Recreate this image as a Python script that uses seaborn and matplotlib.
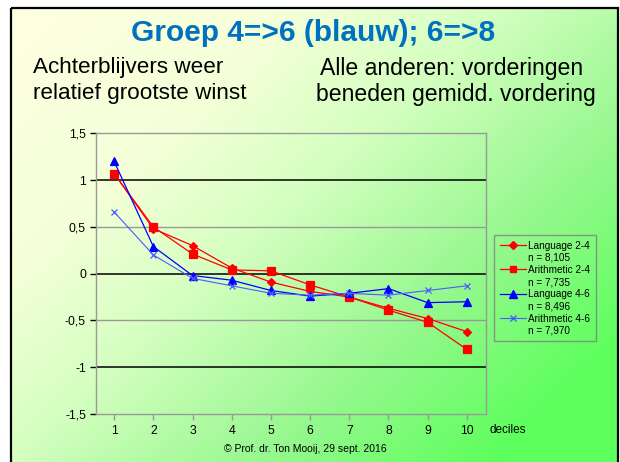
import numpy as np
import pandas as pd
import matplotlib
matplotlib.use("Agg")
import matplotlib.pyplot as plt
import seaborn as sns
from matplotlib.colors import LinearSegmentedColormap
from matplotlib.lines import Line2D
from matplotlib.patches import Rectangle

plt.rcParams['font.family'] = ['Liberation Sans', 'DejaVu Sans']

# data
deciles = [1, 2, 3, 4, 5, 6, 7, 8, 9, 10]
lang_24 = [1.07, 0.48, 0.30, 0.06, -0.09, -0.19, -0.25, -0.37, -0.48, -0.62]
arith_24 = [1.07, 0.50, 0.21, 0.04, 0.03, -0.12, -0.25, -0.39, -0.52, -0.81]
lang_46 = [1.20, 0.29, -0.02, -0.07, -0.18, -0.24, -0.21, -0.16, -0.31, -0.30]
arith_46 = [0.66, 0.20, -0.05, -0.13, -0.21, -0.23, -0.21, -0.23, -0.18, -0.13]
series_names = ['Language 2-4', 'Arithmetic 2-4', 'Language 4-6', 'Arithmetic 4-6']
series_n = ['8,105', '7,735', '8,496', '7,970']
ytick_vals = [1.5, 1, 0.5, 0, -0.5, -1, -1.5]
ytick_labels = ['1,5', '1', '0,5', '0', '-0,5', '-1', '-1,5']

W, H = 620, 462
fig = plt.figure(figsize=(W / 100, H / 100), dpi=100, facecolor='white')

# background slide with gradient
bg = fig.add_axes([0, 0, 1, 1], zorder=-5)
bg.set_xlim(0, W)
bg.set_ylim(H, 0)
bg.axis('off')
u, v = np.meshgrid(np.linspace(0, 1, 200), np.linspace(0, 1, 150))
t = np.clip(0.62 * u + 0.5 * v, 0, 1)
cmap = LinearSegmentedColormap.from_list('slide', [
    (0.0, '#ffffe2'), (0.3, '#f4ffd8'), (0.5, '#d4ffc0'),
    (0.75, '#98f890'), (1.0, '#5cff5c')])
bg.imshow(t, cmap=cmap, extent=(10, 619, H, 7), aspect='auto', vmin=0, vmax=1)
bg.add_patch(Rectangle((11, 8), 607, H, fill=False, edgecolor='black', linewidth=1.6))

# titles
fig.text(313 / W, 1 - 33 / H, 'Groep 4=>6 (blauw); 6=>8', ha='center', va='center',
         fontsize=21.5, fontweight='bold', color='#0070C0')
fig.text(33 / W, 1 - 68 / H, 'Achterblijvers weer', ha='left', va='center', fontsize=16.2)
fig.text(33 / W, 1 - 94 / H, 'relatief grootste winst', ha='left', va='center', fontsize=16.2)
fig.text(452 / W, 1 - 68 / H, 'Alle anderen: vorderingen', ha='center', va='center', fontsize=16.6)
fig.text(456 / W, 1 - 94 / H, 'beneden gemidd. vordering', ha='center', va='center', fontsize=16.6)
fig.text(305 / W, 1 - 449 / H, '\u00a9 Prof. dr. Ton Mooij, 29 sept. 2016', ha='center', va='center',
         fontsize=7.5)
fig.text(490 / W, 1 - 430 / H, 'deciles', ha='left', va='center', fontsize=8.5)

# main plot
ax = fig.add_axes([95.7 / W, 1 - 414 / H, 390 / W, (414 - 133.3) / H])
ax.set_facecolor('none')

for y in [0.5, -0.5]:
    ax.axhline(y, color='#999999', linewidth=1.0, zorder=0)
for y in [1, 0, -1]:
    ax.axhline(y, color='black', linewidth=1.1, zorder=0)

styles = [
    ('#ff0000', 'D', 4.0, 0.9),
    ('#ff0000', 's', 5.5, 0.9),
    ('#0000ff', '^', 6.0, 0.9),
    ('#4a5cff', 'x', 5.0, 0.8),
]
for vals, (col, mk, ms, lw) in zip([lang_24, arith_24, lang_46, arith_46], styles):
    df = pd.DataFrame({'decile': deciles, 'value': vals})
    sns.lineplot(data=df, x='decile', y='value', ax=ax, color=col, marker=mk,
                 markersize=ms, markeredgecolor=col, markerfacecolor=col,
                 markeredgewidth=0.9, linewidth=lw)

ax.set_xlim(0.53, 10.48)
ax.set_ylim(-1.5, 1.5)
ax.set_xticks(deciles)
ax.set_xticklabels([str(d) for d in deciles])
ax.set_yticks(ytick_vals)
ax.set_yticklabels(ytick_labels)
ax.set_xlabel('')
ax.set_ylabel('')
ax.tick_params(axis='both', labelsize=8.8, direction='out', length=4, width=1)
ax.tick_params(axis='y', pad=3)
ax.tick_params(axis='x', colors='#999999', labelcolor='black', pad=4)
for tk, val in zip(ax.yaxis.get_major_ticks(), ytick_vals):
    if val in (1, 0, -1, -1.5):
        tk.tick1line.set_color('black')
    else:
        tk.tick1line.set_color('#999999')
for sp in ax.spines.values():
    sp.set_color('#999999')
    sp.set_linewidth(1.0)

# legend: name row with marker, n row without
handles, labels = [], []
blank = Line2D([], [], linestyle='none', marker='none')
for name, n, (col, mk, ms, lw) in zip(series_names, series_n, styles):
    handles.append(Line2D([], [], color=col, marker=mk, markersize=ms * 0.9,
                          markeredgecolor=col, markerfacecolor=col, linewidth=lw))
    labels.append(name)
    handles.append(blank)
    labels.append('n = ' + n)
leg = ax.legend(handles, labels, loc='upper left',
                bbox_to_anchor=(494 / W, 1 - 235 / H), bbox_transform=fig.transFigure,
                borderaxespad=0, fontsize=7.2, frameon=True, fancybox=False,
                handlelength=2.6, handletextpad=0.25, labelspacing=0.22,
                borderpad=0.55, handleheight=0.7)
leg.get_frame().set_edgecolor('#808080')
leg.get_frame().set_facecolor('none')
leg.get_frame().set_linewidth(1.0)

fig.savefig('out.png', dpi=100)
